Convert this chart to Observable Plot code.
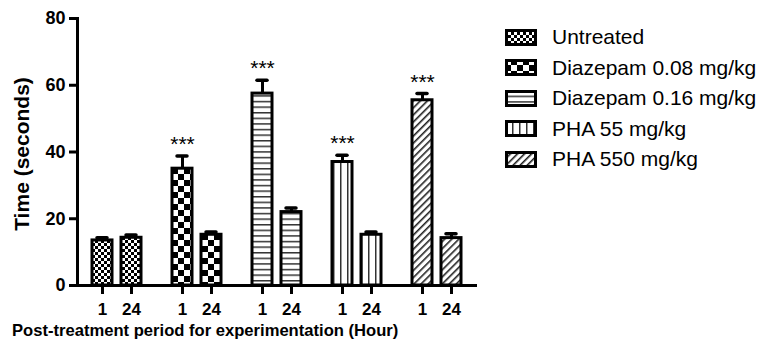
<!DOCTYPE html>
<html><head><meta charset="utf-8">
<script src="https://cdn.jsdelivr.net/npm/d3@7"></script>
<script src="https://cdn.jsdelivr.net/npm/@observablehq/plot@0.6"></script>
<style>
body{margin:0;background:#fff;font-family:"Liberation Sans",Arial,sans-serif;color:#000;}
#wrap{position:relative;width:768px;height:351px;overflow:hidden;}
#chart{position:absolute;left:0;top:0;}
#ytitle{position:absolute;left:22px;top:154px;transform:translate(-50%,-50%) rotate(-90deg);white-space:nowrap;font-weight:bold;font-size:21px;}
#xtitle{position:absolute;left:12px;top:321px;white-space:nowrap;font-weight:bold;font-size:16.6px;}
#legend{position:absolute;left:505px;top:22px;}
.row{display:flex;align-items:center;height:30.5px;}
.sw{width:32px;height:17px;box-sizing:border-box;}
.sw svg{display:block;}
.lab{margin-left:15px;font-size:21px;white-space:nowrap;}
</style></head>
<body>
<svg width="0" height="0" style="position:absolute">
<defs>
  <pattern id="p0" patternUnits="userSpaceOnUse" width="6" height="6">
    <rect width="6" height="6" fill="#fff"/>
    <rect x="3" y="0" width="3" height="3" fill="#000"/>
    <rect x="0" y="3" width="3" height="3" fill="#000"/>
  </pattern>
  <pattern id="p1" patternUnits="userSpaceOnUse" width="12" height="12">
    <rect width="12" height="12" fill="#fff"/>
    <rect x="6" y="0" width="6" height="6" fill="#000"/>
    <rect x="0" y="6" width="6" height="6" fill="#000"/>
  </pattern>
  <pattern id="p2" patternUnits="userSpaceOnUse" width="6" height="5.6">
    <rect width="6" height="5.6" fill="#fff"/>
    <rect x="0" y="0" width="6" height="1.5" fill="#333"/>
  </pattern>
  <pattern id="p3" patternUnits="userSpaceOnUse" width="7" height="6">
    <rect width="7" height="6" fill="#fff"/>
    <rect x="0" y="0" width="1.5" height="6" fill="#333"/>
  </pattern>
  <pattern id="p4" patternUnits="userSpaceOnUse" width="5" height="5" patternTransform="rotate(45)">
    <rect width="5" height="5" fill="#fff"/>
    <rect x="0" y="0" width="1.6" height="5" fill="#222"/>
  </pattern>
</defs>
</svg>
<div id="wrap">
  <div id="chart"></div>
  <div id="ytitle">Time (seconds)</div>
  <div id="xtitle">Post-treatment period for experimentation (Hour)</div>
  <div id="legend"></div>
</div>
<script>
const groups = ["Untreated", "Diazepam 0.08 mg/kg", "Diazepam 0.16 mg/kg", "PHA 55 mg/kg", "PHA 550 mg/kg"];
const times = ["1", "24"];
const mean1 = [13.5, 35.0, 57.5, 37.0, 55.5];
const err1 = [0.8, 3.8, 4.0, 2.0, 2.0];
const mean24 = [14.3, 15.2, 22.0, 15.2, 14.2];
const err24 = [0.8, 0.8, 1.2, 0.8, 1.3];
const stars1 = ["", "***", "***", "***", "***"];
const yTicks = [0, 20, 40, 60, 80];
const patterns = ["p0", "p1", "p2", "p3", "p4"];

const rows = groups.flatMap((g, i) => [
  {group: g, time: times[0], mean: mean1[i], err: err1[i], star: stars1[i], pat: `url(#${patterns[i]})`},
  {group: g, time: times[1], mean: mean24[i], err: err24[i], star: "", pat: `url(#${patterns[i]})`}
]);

const chart = Plot.plot({
  width: 768, height: 318,
  marginLeft: 75, marginRight: 290, marginTop: 18, marginBottom: 33,
  style: {fontFamily: "Liberation Sans, Arial, sans-serif", fontSize: "17px", color: "#000", background: "transparent"},
  fx: {domain: groups, padding: 0, axis: null, label: null},
  x: {domain: times, paddingInner: 0.3, paddingOuter: 0.5, label: null, axis: null},
  y: {domain: [0, 80], label: null, axis: null},
  color: {type: "identity"},
  marks: [
    Plot.ruleX(rows, {fx: "group", x: "time", y1: "mean", y2: d => d.mean + d.err, stroke: "#000", strokeWidth: 3}),
    Plot.tickY(rows, {fx: "group", x: "time", y: d => d.mean + d.err, stroke: "#000", strokeWidth: 3.5, strokeLinecap: "round", insetLeft: 5, insetRight: 5}),
    Plot.barY(rows, {fx: "group", x: "time", y: "mean", fill: "pat", stroke: "#000", strokeWidth: 3}),
    Plot.text(rows.filter(d => d.star), {fx: "group", x: "time", y: d => d.mean + d.err, text: "star", lineAnchor: "bottom", dy: -5, fontSize: 21, fill: "#000"}),
    Plot.ruleY([0], {stroke: "#000", strokeWidth: 3}),
    Plot.frame({anchor: "left", facetAnchor: "left", stroke: "#000", strokeWidth: 3}),
    Plot.axisY({ticks: yTicks, tickSize: 8, tickPadding: 4, strokeWidth: 3, fontSize: 18, fontWeight: "bold", label: null}),
    Plot.axisX({tickSize: 9, tickPadding: 8, strokeWidth: 3, fontSize: 17, fontWeight: "bold", label: null})
  ]
});
document.getElementById("chart").appendChild(chart);

const legend = document.getElementById("legend");
groups.forEach((g, i) => {
  const row = document.createElement("div");
  row.className = "row";
  row.innerHTML = `<div class="sw"><svg width="32" height="17"><rect x="1.5" y="1.5" width="29" height="14" fill="url(#${patterns[i]})" stroke="#000" stroke-width="3"/></svg></div><div class="lab"></div>`;
  row.querySelector(".lab").textContent = g;
  legend.appendChild(row);
});
</script>
</body></html>
